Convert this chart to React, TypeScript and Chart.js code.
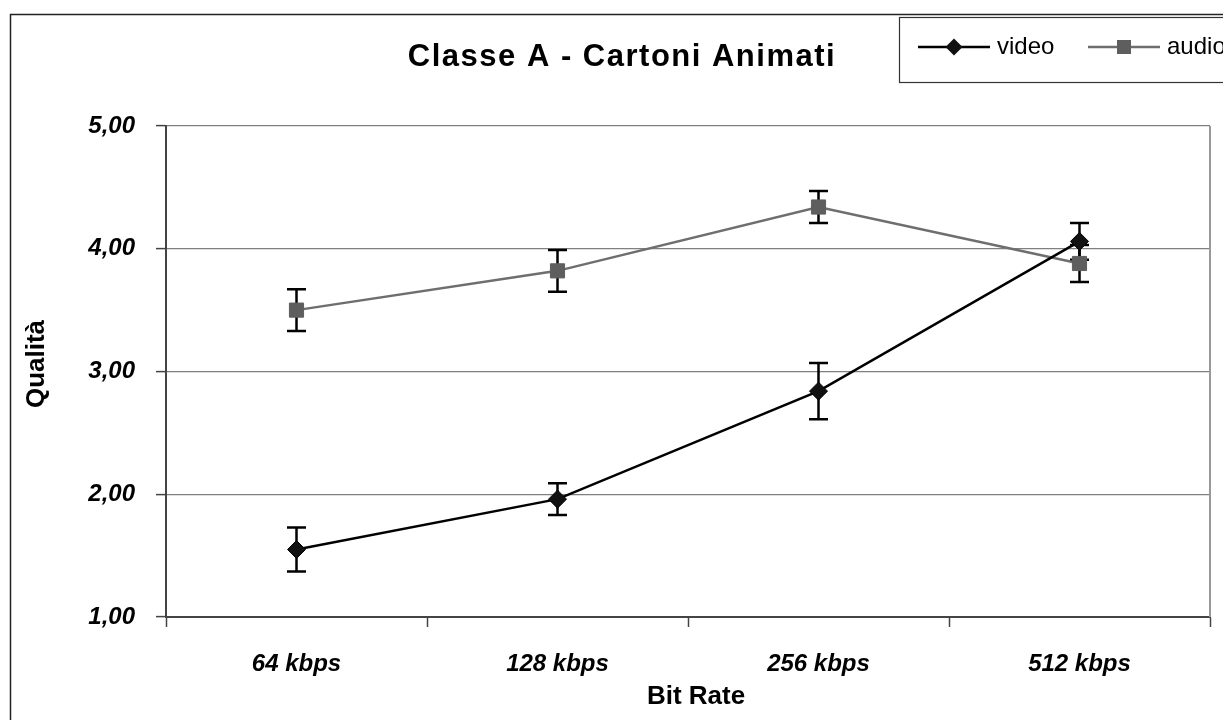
import React, { useEffect, useRef } from "react";
import { Chart, registerables } from "chart.js";

Chart.register(...registerables);

const categories = ["64 kbps", "128 kbps", "256 kbps", "512 kbps"];
const videoValues = [1.55, 1.96, 2.84, 4.06];
const videoErrors = [0.18, 0.13, 0.23, 0.15];
const audioValues = [3.5, 3.82, 4.34, 3.88];
const audioErrors = [0.17, 0.17, 0.13, 0.15];
const yTicks = [1, 2, 3, 4, 5];
const chartTitle = "Classe A - Cartoni Animati";
const xTitle = "Bit Rate";
const yTitle = "Qualità";
const seriesNames = ["video", "audio"];

const FONT = "'Liberation Sans', Arial, sans-serif";

const errorBarPlugin = {
  id: "errorBars",
  beforeDatasetsDraw(chart: any) {
    const ctx = chart.ctx;
    const x = chart.scales.x;
    const y = chart.scales.y;
    const sets = [
      { vals: audioValues, errs: audioErrors },
      { vals: videoValues, errs: videoErrors },
    ];
    ctx.save();
    ctx.strokeStyle = "#000";
    ctx.lineWidth = 2.5;
    sets.forEach((s) => {
      s.vals.forEach((v, i) => {
        const px = x.getPixelForValue(i);
        const top = y.getPixelForValue(v + s.errs[i]);
        const bot = y.getPixelForValue(v - s.errs[i]);
        ctx.beginPath();
        ctx.moveTo(px, top);
        ctx.lineTo(px, bot);
        ctx.moveTo(px - 9.5, top);
        ctx.lineTo(px + 9.5, top);
        ctx.moveTo(px - 9.5, bot);
        ctx.lineTo(px + 9.5, bot);
        ctx.stroke();
      });
    });
    ctx.restore();
  },
};

const decorPlugin = {
  id: "decor",
  beforeDraw(chart: any) {
    const ctx = chart.ctx;
    ctx.save();
    ctx.fillStyle = "#fff";
    ctx.fillRect(0, 0, chart.width, chart.height);
    ctx.restore();
  },
  afterDraw(chart: any) {
    const ctx = chart.ctx;
    const a = chart.chartArea;
    ctx.save();
    // plot area right border
    ctx.strokeStyle = "#999";
    ctx.lineWidth = 2;
    ctx.beginPath();
    ctx.moveTo(a.right, a.top);
    ctx.lineTo(a.right, a.bottom);
    ctx.stroke();
    // outer frame
    ctx.strokeStyle = "#222";
    ctx.lineWidth = 1.5;
    ctx.beginPath();
    ctx.moveTo(10.5, chart.height);
    ctx.lineTo(10.5, 14.5);
    ctx.lineTo(chart.width, 14.5);
    ctx.stroke();
    // title
    ctx.fillStyle = "#000";
    ctx.font = `bold 31px ${FONT}`;
    (ctx as any).letterSpacing = "1.5px";
    ctx.textAlign = "center";
    ctx.textBaseline = "middle";
    ctx.fillText(chartTitle, 622, 57);
    (ctx as any).letterSpacing = "0px";
    // axis titles
    ctx.font = `bold 26px ${FONT}`;
    ctx.fillText(xTitle, 696, 697);
    ctx.save();
    ctx.translate(37, 364);
    ctx.rotate(-Math.PI / 2);
    ctx.fillText(yTitle, 0, 0);
    ctx.restore();
    // legend
    ctx.fillStyle = "#fff";
    ctx.fillRect(899, 17, 330, 65);
    ctx.strokeStyle = "#333";
    ctx.lineWidth = 1.2;
    ctx.strokeRect(899.5, 17.5, 330, 65);
    const ly = 47;
    const ds = chart.data.datasets;
    const items = [
      { x0: 918, x1: 990, tx: 997 },
      { x0: 1088, x1: 1160, tx: 1167 },
    ];
    items.forEach((it, i) => {
      const d = ds[i];
      ctx.strokeStyle = d.borderColor;
      ctx.lineWidth = 2.5;
      ctx.beginPath();
      ctx.moveTo(it.x0, ly);
      ctx.lineTo(it.x1, ly);
      ctx.stroke();
      const cx = (it.x0 + it.x1) / 2;
      ctx.fillStyle = d.pointBackgroundColor;
      ctx.beginPath();
      if (d.pointStyle === "rectRot") {
        ctx.moveTo(cx - 8.5, ly);
        ctx.lineTo(cx, ly - 8.5);
        ctx.lineTo(cx + 8.5, ly);
        ctx.lineTo(cx, ly + 8.5);
        ctx.closePath();
      } else {
        ctx.rect(cx - 7, ly - 7, 14, 14);
      }
      ctx.fill();
      ctx.fillStyle = "#000";
      ctx.font = `24px ${FONT}`;
      ctx.textAlign = "left";
      ctx.textBaseline = "middle";
      ctx.fillText(d.label, it.tx, ly);
    });
    ctx.restore();
  },
};

export default function App() {
  const ref = useRef<HTMLCanvasElement>(null);
  useEffect(() => {
    if (!ref.current) return;
    const chart = new Chart(ref.current, {
      type: "line",
      data: {
        labels: categories,
        datasets: [
          {
            label: seriesNames[0],
            data: videoValues,
            borderColor: "#000",
            borderWidth: 2.5,
            pointStyle: "rectRot",
            pointRadius: 9,
            pointBackgroundColor: "#111",
            pointBorderColor: "#000",
            pointBorderWidth: 1,
            tension: 0,
          },
          {
            label: seriesNames[1],
            data: audioValues,
            borderColor: "#6e6e6e",
            borderWidth: 2.5,
            pointStyle: "rect",
            pointRadius: 10,
            pointBackgroundColor: "#5e5e5e",
            pointBorderColor: "#5e5e5e",
            pointBorderWidth: 1,
            tension: 0,
          },
        ],
      },
      options: {
        animation: false,
        responsive: false,
        layout: { padding: { top: 126, right: 13, left: 0, bottom: 0 } },
        plugins: {
          legend: { display: false },
          title: { display: false },
          tooltip: { enabled: false },
        },
        scales: {
          x: {
            type: "category",
            offset: true,
            afterFit: (s: any) => {
              s.height = 103;
            },
            grid: {
              offset: true,
              drawOnChartArea: false,
              drawTicks: true,
              tickLength: 10,
              tickColor: "#444",
              tickWidth: 1.5,
            },
            border: { display: true, color: "#444", width: 2 },
            ticks: {
              color: "#000",
              padding: 23,
              font: { family: FONT, size: 24, style: "italic", weight: "bold" },
            },
          },
          y: {
            min: 1,
            max: 5,
            afterFit: (s: any) => {
              s.width = 166;
            },
            afterBuildTicks: (s: any) => {
              s.ticks = yTicks.map((v) => ({ value: v }));
            },
            grid: {
              color: "#808080",
              lineWidth: 1.2,
              drawTicks: true,
              tickLength: 10,
              tickColor: "#444",
              tickWidth: 1.5,
            },
            border: { display: true, color: "#444", width: 2 },
            ticks: {
              color: "#000",
              padding: 21,
              font: { family: FONT, size: 24, style: "italic", weight: "bold" },
              callback: (v: any) => Number(v).toFixed(2).replace(".", ","),
            },
          },
        },
      },
      plugins: [decorPlugin, errorBarPlugin],
    });
    return () => chart.destroy();
  }, []);
  return (
    <div style={{ position: "absolute", left: 0, top: 0, width: 1223, height: 720 }}>
      <canvas ref={ref} width={1223} height={720} style={{ display: "block" }} />
    </div>
  );
}
